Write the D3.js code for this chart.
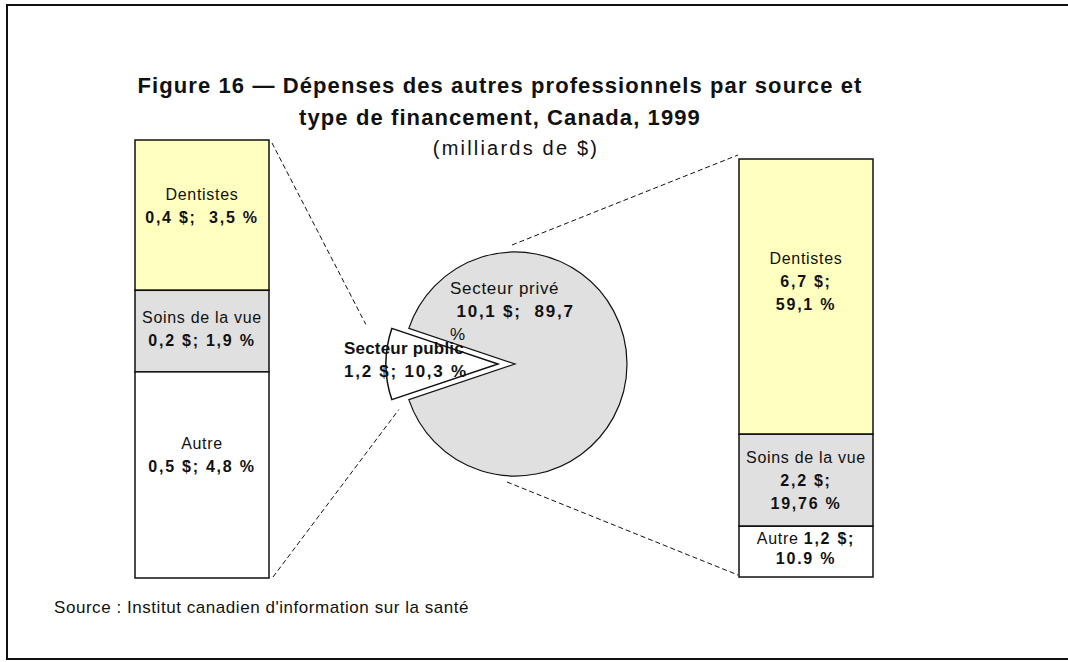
<!DOCTYPE html>
<html lang="fr">
<head>
<meta charset="utf-8">
<title>Figure 16</title>
<script src="https://cdn.jsdelivr.net/npm/d3@7"></script>
<style>
  body { margin: 0; background: #fff; }
  text { font-family: "Liberation Sans", Arial, sans-serif; fill: #111; white-space: pre; }
</style>
</head>
<body>
<script>
// data (milliards de $)
var sectors = ["Secteur public", "Secteur privé"];
var sectorValues = [1.2, 10.1];
var sectorPct = [10.3, 89.7];

var categories = ["Dentistes", "Soins de la vue", "Autre"];
var publicValues = [0.4, 0.2, 0.5];
var publicPct = [3.5, 1.9, 4.8];
var privateValues = [6.7, 2.2, 1.2];
var privatePct = [59.1, 19.76, 10.9];

// label lines as printed in the figure: [text, bold, bold tail]
var publicLabels = [
  [["Dentistes", false], ["0,4 $;  3,5 %", true]],
  [["Soins de la vue", false], ["0,2 $; 1,9 %", true]],
  [["Autre", false], ["0,5 $; 4,8 %", true]]
];
var privateLabels = [
  [["Dentistes", false], ["6,7 $;", true], ["59,1 %", true]],
  [["Soins de la vue", false], ["2,2 $;", true], ["19,76 %", true]],
  [["Autre ", false, "1,2 $;"], ["10.9 %", true]]
];
var sectorLabels = [
  [["Secteur public", true], ["1,2 $; 10,3 %", true]],
  [["Secteur privé", false], [" 10,1 $;  89,7", true], ["%", false]]
];

var catColors = ["#ffffc0", "#e0e0e0", "#ffffff"];
var sectorColors = ["#ffffff", "#e0e0e0"];

var w = 1068, h = 662;
var svg = d3.select("body").append("svg").attr("width", w).attr("height", h);

// letter spacing: the original face is wide, numbers even more so
function spacing(txt, bold) {
  if (/\d/.test(txt)) return "1.75px";
  return bold ? "0.2px" : "0.7px";
}
function addText(sel, ln) {
  sel.append("tspan").style("font-weight", ln[1] ? "bold" : "normal")
    .style("letter-spacing", spacing(ln[0], ln[1])).text(ln[0]);
  if (ln[2]) sel.append("tspan").style("font-weight", "bold")
    .style("letter-spacing", spacing(ln[2], true)).text(ln[2]);
}

// frame
svg.append("rect").attr("x", 7).attr("y", 5).attr("width", w).attr("height", 654)
  .attr("fill", "none").attr("stroke", "#111").attr("stroke-width", 2);

// title
var title = svg.append("g").attr("text-anchor", "middle");
title.append("text").attr("x", 500).attr("y", 93).style("font-weight", "bold").style("font-size", "22px")
  .style("letter-spacing", "1.1px").text("Figure 16 \u2014 Dépenses des autres professionnels par source et");
title.append("text").attr("x", 500).attr("y", 125).style("font-weight", "bold").style("font-size", "22px")
  .style("letter-spacing", "1.1px").text("type de financement, Canada, 1999");
title.append("text").attr("x", 516).attr("y", 155).style("font-size", "20px")
  .style("letter-spacing", "2.2px").text("(milliards de $)");

svg.append("text").attr("x", 54).attr("y", 613).style("font-size", "17px").style("letter-spacing", "0.55px")
  .text("Source : Institut canadien d'information sur la santé");

// pie
var cx = 515, cy = 364, r = 112, explode = 17;
var half = Math.PI * sectorPct[0] / 100;
var pie = d3.pie().sort(null)
  .startAngle(-Math.PI / 2 - half).endAngle(3 * Math.PI / 2 - half);
var arcs = pie(sectorPct);
var arc = d3.arc().innerRadius(0).outerRadius(r);

var pieG = svg.append("g").attr("transform", "translate(" + cx + "," + cy + ")");

// bar helper
function drawBar(x0, x1, y0, y1, pct, labels, shift, lh) {
  var y = d3.scaleLinear().domain([0, d3.sum(pct)]).range([y0, y1]);
  var cum = d3.cumsum(pct);
  var g = svg.append("g");
  pct.forEach(function (p, i) {
    var top = y(cum[i] - p), bot = y(cum[i]);
    g.append("rect").attr("x", x0).attr("y", top).attr("width", x1 - x0).attr("height", bot - top)
      .attr("fill", catColors[i]).attr("stroke", "#111").attr("stroke-width", 1.5);
    var lines = labels[i];
    var startY = (top + bot) / 2 - (lines.length - 1) * lh[i] / 2 + 6 + shift[i];
    lines.forEach(function (ln, k) {
      var t = g.append("text").attr("x", (x0 + x1) / 2).attr("y", startY + k * lh[i])
        .attr("text-anchor", "middle").style("font-size", "16px");
      addText(t, ln);
    });
  });
  return y;
}

// left bar: breakdown of the public sector
var lx0 = 135, lx1 = 269, ly0 = 140, ly1 = 578;
drawBar(lx0, lx1, ly0, ly1, publicPct, publicLabels, [-10, -3, -20], [23, 23, 23]);
// right bar: breakdown of the private sector
var rx0 = 739, rx1 = 873, ry0 = 159, ry1 = 577;
drawBar(rx0, rx1, ry0, ry1, privatePct, privateLabels, [-16, 0, -4], [23, 23, 20]);

// connectors
var pubMid = (arcs[0].startAngle + arcs[0].endAngle) / 2;
var ox = explode * Math.sin(pubMid), oy = -explode * Math.cos(pubMid);
function corner(a, rad) { return [cx + ox + rad * Math.sin(a), cy + oy - rad * Math.cos(a)]; }
var cTop = corner(arcs[0].endAngle, r), cBot = corner(arcs[0].startAngle, r);
var conns = [
  [[lx1 + 3, ly0 + 3], [cTop[0] - 26, cTop[1] - 4]],
  [[lx1 + 4, ly1 - 1], [cBot[0] + 7, cBot[1] + 10]],
  [[cx - 3, cy - r - 7], [rx0 - 1, ry0 - 4]],
  [[cx - 8, cy + r + 6], [rx0 - 1, ry1 - 2]]
];
svg.append("g").selectAll("line").data(conns).join("line")
  .attr("x1", function (d) { return d[0][0]; }).attr("y1", function (d) { return d[0][1]; })
  .attr("x2", function (d) { return d[1][0]; }).attr("y2", function (d) { return d[1][1]; })
  .attr("stroke", "#111").attr("stroke-width", 1).attr("stroke-dasharray", "5,3");

// private slice first, its label, then the exploded public slice over it
pieG.append("path").attr("d", arc(arcs[1])).attr("fill", sectorColors[1])
  .attr("stroke", "#111").attr("stroke-width", 1.2);

function drawLabel(lines, x, y) {
  lines.forEach(function (ln, k) {
    var t = svg.append("text").attr("x", x).attr("y", y + k * 23).style("font-size", "17px");
    addText(t, ln);
  });
}
drawLabel(sectorLabels[1], cx - 65, cy - 70);

pieG.append("path").attr("d", arc(arcs[0])).attr("fill", sectorColors[0])
  .attr("transform", "translate(" + ox + "," + oy + ")")
  .attr("stroke", "#111").attr("stroke-width", 1.5);

drawLabel(sectorLabels[0], cx - 171, cy - 10);
</script>
</body>
</html>
